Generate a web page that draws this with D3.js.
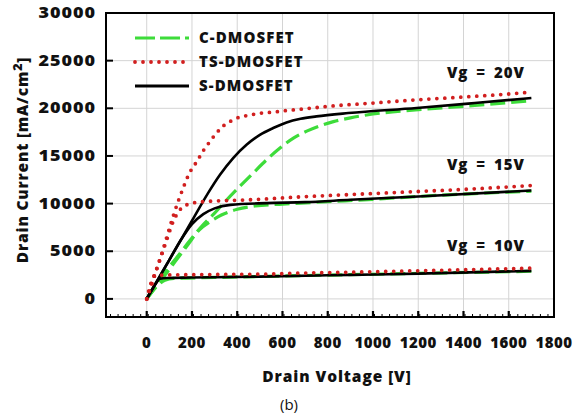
<!DOCTYPE html>
<html lang="en">
<head>
<meta charset="UTF-8">
<title>Drain current vs drain voltage</title>
<script src="https://d3js.org/d3.v7.min.js"></script>
<style>
  body { margin: 0; background: #fff; }
  svg { display: block; }
  text { font-family: "Open Sans", sans-serif; fill: #111; }
</style>
</head>
<body>
<script>
// ---- data: [drain voltage (V), drain current (mA/cm2)] ----
const xTicks = [0, 200, 400, 600, 800, 1000, 1200, 1400, 1600, 1800];
const yTicks = [0, 5000, 10000, 15000, 20000, 25000, 30000];

const cDmos20 = [[0,0],[73,2600],[131,4300],[190,6100],[250,7800],[300,9000],[350,10300],[404,11630],[470,13200],[530,14600],[589,15830],[650,16900],[707,17600],[770,18200],[825,18600],[900,19000],[972,19300],[1200,19850],[1450,20300],[1700,20800]];
const cDmos15 = [[0,0],[87,2700],[176,5500],[235,7300],[280,8100],[330,8800],[400,9400],[480,9750],[600,9950],[800,10200],[1000,10450],[1200,10750],[1450,11050],[1700,11300]];
const cDmos10 = [[0,0],[40,1200],[80,1950],[120,2150],[300,2250],[700,2450],[1200,2680],[1700,2900]];

const tsDmos20 = [[0,0],[22,1600],[43,3100],[65,4650],[90,6600],[117,8700],[140,10300],[161,11630],[190,13270],[212,14070],[235,14950],[254,15700],[279,16500],[308,17400],[341,18200],[375,18700],[411,19080],[448,19250],[485,19430],[559,19600],[625,19780],[700,19950],[800,20200],[1000,20550],[1200,20900],[1400,21180],[1600,21500],[1700,21700]];
const tsDmos15 = [[0,0],[30,2100],[60,4200],[90,6300],[115,8000],[145,9300],[180,9900],[250,10200],[456,10400],[677,10700],[900,10950],[1200,11270],[1450,11550],[1700,11900]];
const tsDmos10 = [[0,0],[18,1600],[35,2450],[80,2500],[300,2560],[530,2600],[677,2700],[900,2800],[1200,2950],[1450,3080],[1700,3220]];

const sDmos20 = [[0,0],[100,4100],[200,8200],[271,11100],[323,13000],[382,14780],[441,16170],[500,17220],[559,17930],[618,18520],[680,18900],[750,19150],[891,19500],[1193,20030],[1450,20550],[1700,21080]];
const sDmos15 = [[0,0],[100,4100],[150,6150],[200,7850],[250,8900],[300,9500],[370,9870],[530,10050],[700,10150],[900,10400],[1200,10750],[1700,11380]];
const sDmos10 = [[0,0],[40,1600],[58,2120],[90,2200],[200,2240],[500,2340],[900,2520],[1200,2650],[1700,2940]];

const legendNames = ["C-DMOSFET", "TS-DMOSFET", "S-DMOSFET"];
const gateLabels = [["Vg = 20V", 23200], ["Vg = 15V", 13500], ["Vg = 10V", 5000]];

// ---- layout ----
const W = 575, H = 416;
const plot = {left: 106, right: 554, top: 13, bottom: 317};
const bold = 800;

const svg = d3.select("body").append("svg")
    .attr("width", W).attr("height", H);

const x = d3.scaleLinear().domain([-180, 1800]).range([plot.left, plot.right]);
const y = d3.scaleLinear().domain([-1900, 30000]).range([plot.bottom, plot.top]);

// grid
svg.append("g").selectAll("line")
    .data(xTicks.filter(d => d < 1800))
    .enter().append("line")
    .attr("x1", d => x(d)).attr("x2", d => x(d))
    .attr("y1", plot.top).attr("y2", plot.bottom)
    .attr("stroke", "#d4d4d4").attr("stroke-width", 1);
svg.append("g").selectAll("line")
    .data(yTicks.filter(d => d < 30000))
    .enter().append("line")
    .attr("x1", plot.left).attr("x2", plot.right)
    .attr("y1", d => y(d)).attr("y2", d => y(d))
    .attr("stroke", "#d4d4d4").attr("stroke-width", 1);

// curves
const line = d3.line().x(d => x(d[0])).y(d => y(d[1])).curve(d3.curveMonotoneX);

const styles = {
    c:  {stroke: "#3ddc3a", width: 3.2, dash: "15,6", cap: "butt"},
    ts: {stroke: "#d11f1f", width: 3.8, dash: "0,8", cap: "round"},
    s:  {stroke: "#000", width: 2.6, dash: null, cap: "butt"}
};

const series = [
    [cDmos10, "c"], [cDmos15, "c"], [cDmos20, "c"],
    [sDmos10, "s"], [sDmos15, "s"], [sDmos20, "s"],
    [tsDmos10, "ts"], [tsDmos15, "ts"], [tsDmos20, "ts"]
];

svg.append("g").selectAll("path")
    .data(series)
    .enter().append("path")
    .attr("d", d => line(d[0]))
    .attr("fill", "none")
    .attr("stroke", d => styles[d[1]].stroke)
    .attr("stroke-width", d => styles[d[1]].width)
    .attr("stroke-dasharray", d => styles[d[1]].dash)
    .attr("stroke-linecap", d => styles[d[1]].cap);

// frame
svg.append("rect")
    .attr("x", plot.left).attr("y", plot.top)
    .attr("width", plot.right - plot.left).attr("height", plot.bottom - plot.top)
    .attr("fill", "none").attr("stroke", "#000").attr("stroke-width", 2);

// y ticks (inward) and labels
svg.append("g").selectAll("line")
    .data(yTicks.filter(d => d < 30000))
    .enter().append("line")
    .attr("x1", plot.left).attr("x2", plot.left + 7)
    .attr("y1", d => y(d)).attr("y2", d => y(d))
    .attr("stroke", "#000").attr("stroke-width", 2);
svg.append("g").selectAll("text")
    .data(yTicks)
    .enter().append("text")
    .attr("transform", d => `translate(96,${y(d) + 5}) scale(1.2,1)`)
    .attr("text-anchor", "end")
    .attr("font-size", 15).attr("font-weight", bold)
    .attr("letter-spacing", 0.8)
    .text(d => d);

// x ticks: minor every 200/6 V, major every 200 V, pointing up from the bottom edge
svg.append("g").selectAll("line")
    .data(d3.range(-160, 1800, 200 / 6))
    .enter().append("line")
    .attr("x1", d => x(d)).attr("x2", d => x(d))
    .attr("y1", plot.bottom).attr("y2", plot.bottom - 3)
    .attr("stroke", "#000").attr("stroke-width", 1);
svg.append("g").selectAll("line")
    .data(xTicks.filter(d => d < 1800))
    .enter().append("line")
    .attr("x1", d => x(d)).attr("x2", d => x(d))
    .attr("y1", plot.bottom).attr("y2", plot.bottom - 6)
    .attr("stroke", "#000").attr("stroke-width", 2.2);
svg.append("g").selectAll("text")
    .data(xTicks)
    .enter().append("text")
    .attr("x", d => x(d)).attr("y", 348)
    .attr("text-anchor", "middle")
    .attr("font-size", 15).attr("font-weight", bold)
    .attr("letter-spacing", 0.5)
    .text(d => d);

// axis titles
svg.append("text")
    .attr("x", 337).attr("y", 382)
    .attr("text-anchor", "middle")
    .attr("font-size", 15.5).attr("font-weight", bold)
    .attr("letter-spacing", 0.9)
    .text("Drain Voltage [V]");

const yTitle = svg.append("text")
    .attr("transform", "translate(28,160) rotate(-90)")
    .attr("text-anchor", "middle")
    .attr("font-size", 15.5).attr("font-weight", bold)
    .attr("letter-spacing", 0.8);
yTitle.append("tspan").text("Drain Current [mA/cm");
yTitle.append("tspan").attr("dy", -6).attr("font-size", 12.5).text("2");
yTitle.append("tspan").attr("dy", 6).text("]");

svg.append("text")
    .attr("x", 289).attr("y", 410)
    .attr("text-anchor", "middle")
    .attr("font-size", 15)
    .text("(b)");

// legend
const legendKeys = ["c", "ts", "s"];
const lg = svg.append("g");
legendKeys.forEach((k, i) => {
    const ly = 38 + i * 24;
    lg.append("line")
        .attr("x1", 135).attr("x2", k === "ts" ? 187 : 189)
        .attr("y1", ly).attr("y2", ly)
        .attr("stroke", styles[k].stroke)
        .attr("stroke-width", k === "s" ? 3.2 : styles[k].width)
        .attr("stroke-dasharray", k === "c" ? "20,5" : styles[k].dash)
        .attr("stroke-linecap", styles[k].cap);
    lg.append("text")
        .attr("x", 199).attr("y", ly + 5)
        .attr("font-size", 15).attr("font-weight", bold)
        .attr("letter-spacing", 1.1)
        .text(legendNames[i]);
});

// gate voltage labels
svg.append("g").selectAll("text")
    .data(gateLabels)
    .enter().append("text")
    .attr("x", 525).attr("y", d => y(d[1]))
    .attr("text-anchor", "end")
    .attr("font-size", 15).attr("font-weight", bold)
    .attr("letter-spacing", 1)
    .attr("word-spacing", 3)
    .text(d => d[0]);
</script>
</body>
</html>
